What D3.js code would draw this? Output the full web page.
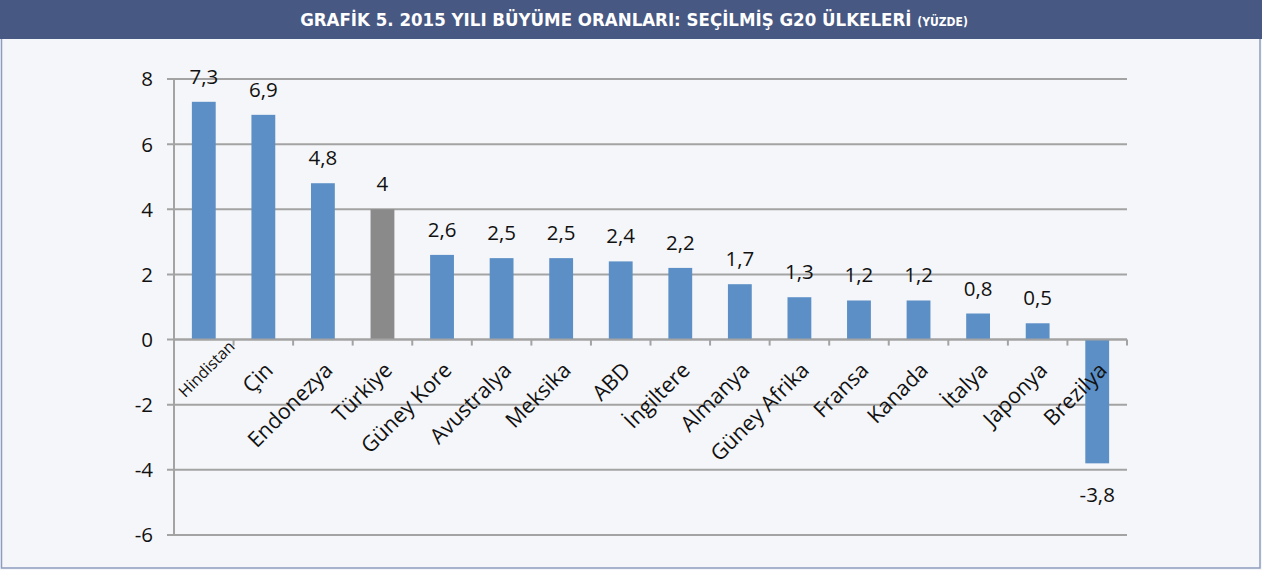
<!DOCTYPE html>
<html>
<head>
<meta charset="utf-8">
<script src="https://cdn.jsdelivr.net/npm/d3@7/dist/d3.min.js"></script>
<style>
  html, body { margin: 0; padding: 0; background: #f5f6f9; }
  svg { display: block; }
</style>
</head>
<body>
<svg id="chart"></svg>
<script>
// data
const countries = ["Hindistan", "Çin", "Endonezya", "Türkiye", "Güney Kore", "Avustralya", "Meksika", "ABD",
                   "İngiltere", "Almanya", "Güney Afrika", "Fransa", "Kanada", "İtalya", "Japonya", "Brezilya"];
const growth = [7.3, 6.9, 4.8, 4, 2.6, 2.5, 2.5, 2.4, 2.2, 1.7, 1.3, 1.2, 1.2, 0.8, 0.5, -3.8];
const highlight = "Türkiye";
const yTicks = [-6, -4, -2, 0, 2, 4, 6, 8];

const W = 1262, H = 570;
const blue = "#5b8fc6", grey = "#8a8a8a", gridColor = "#a3a3a3";
const fontFam = "'Open Sans', 'Noto Sans', sans-serif";

const svg = d3.select("#chart").attr("width", W).attr("height", H);

// background + frame
svg.append("rect").attr("width", W).attr("height", H).attr("fill", "#f5f6f9");
svg.append("rect")
    .attr("x", 1.5).attr("y", 1).attr("width", W - 3.5).attr("height", H - 3)
    .attr("fill", "none").attr("stroke", "#8d9dbf").attr("stroke-width", 1.5);

// title bar
svg.append("rect").attr("x", 0).attr("y", 0).attr("width", W).attr("height", 39).attr("fill", "#475883");
const title = svg.append("text")
    .attr("x", 634).attr("y", 26)
    .attr("text-anchor", "middle")
    .attr("fill", "white")
    .style("font-family", "'Liberation Sans Narrow', 'DejaVu Sans Condensed', sans-serif")
    .style("font-weight", "bold")
    .style("font-size", "18.5px");
title.append("tspan").text("GRAFİK 5. 2015 YILI BÜYÜME ORANLARI: SEÇİLMİŞ G20 ÜLKELERİ ");
title.append("tspan").style("font-size", "12px").text("(YÜZDE)");

// scales
const plotL = 174, plotR = 1127, plotT = 79, plotB = 535;
const x = d3.scaleBand().domain(countries).range([plotL, plotR]).paddingInner(0.6).paddingOuter(0.3);
const y = d3.scaleLinear().domain([-6, 8]).range([plotB, plotT]);
const step = x.step();
const y0 = y(0);

// gridlines with y ticks
svg.append("g").selectAll("line").data(yTicks).join("line")
    .attr("x1", plotL - 7).attr("x2", plotR)
    .attr("y1", d => y(d)).attr("y2", d => y(d))
    .attr("stroke", gridColor).attr("stroke-width", 2);

// y axis line
svg.append("line").attr("x1", plotL).attr("x2", plotL).attr("y1", plotT).attr("y2", plotB)
    .attr("stroke", gridColor).attr("stroke-width", 2);

// y tick labels
svg.append("g").selectAll("text").data(yTicks).join("text")
    .attr("x", 153).attr("y", d => y(d)).attr("dy", "0.36em")
    .attr("text-anchor", "end")
    .style("font-family", fontFam).style("font-size", "20.5px").attr("fill", "#111")
    .text(d => d);

// bars
svg.append("g").selectAll("rect").data(countries).join("rect")
    .attr("x", d => x(d))
    .attr("width", x.bandwidth())
    .attr("y", (d, i) => y(Math.max(0, growth[i])))
    .attr("height", (d, i) => Math.abs(y(growth[i]) - y0))
    .attr("fill", d => d === highlight ? grey : blue);

// x axis line & ticks at category boundaries
svg.append("line").attr("x1", plotL).attr("x2", plotR).attr("y1", y0).attr("y2", y0)
    .attr("stroke", gridColor).attr("stroke-width", 2);
svg.append("g").selectAll("line").data(d3.range(countries.length + 1)).join("line")
    .attr("x1", k => plotL + k * step).attr("x2", k => plotL + k * step)
    .attr("y1", y0).attr("y2", y0 + 6)
    .attr("stroke", gridColor).attr("stroke-width", 2);

// value labels
svg.append("g").selectAll("text").data(countries).join("text")
    .attr("x", d => x(d) + x.bandwidth() / 2)
    .attr("y", (d, i) => growth[i] >= 0 ? y(growth[i]) - 18 : y(growth[i]) + 39)
    .attr("text-anchor", "middle")
    .style("font-family", fontFam).style("font-size", "20.5px").attr("fill", "#111")
    .text((d, i) => String(growth[i]).replace(".", ","));

// category labels, rotated
svg.append("g").selectAll("text").data(countries).join("text")
    .attr("transform", (d, i) => {
        const cx = x(d) + x.bandwidth() / 2;
        return i === 0 ? `translate(${cx + 32},${y0 + 8}) rotate(-45)`
                       : `translate(${cx + 11},${y0 + 32}) rotate(-45)`;
    })
    .attr("text-anchor", "end")
    .style("font-family", fontFam)
    .style("font-size", (d, i) => i === 0 ? "16px" : "21.5px")
    .attr("fill", "#111")
    .text(d => d);
</script>
</body>
</html>
